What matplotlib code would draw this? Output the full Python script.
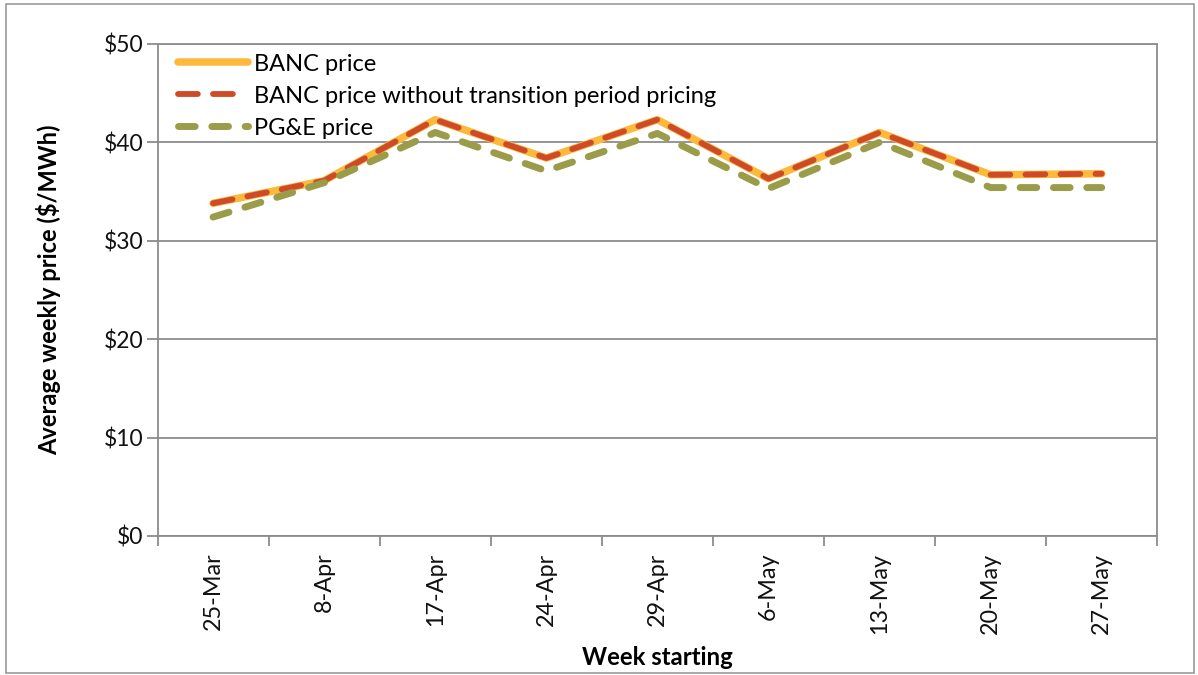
import matplotlib
matplotlib.use("Agg")
import matplotlib.pyplot as plt
import numpy as np
from matplotlib.patches import Rectangle
from matplotlib.ticker import FixedLocator, NullFormatter

weeks = ['25-Mar', '8-Apr', '17-Apr', '24-Apr', '29-Apr', '6-May', '13-May', '20-May', '27-May']
banc_price = [33.8, 36.1, 42.3, 38.4, 42.3, 36.3, 41.0, 36.7, 36.8]
banc_no_transition = [33.8, 36.1, 42.3, 38.4, 42.3, 36.3, 41.0, 36.7, 36.8]
pge_price = [32.4, 35.9, 41.0, 37.1, 40.9, 35.3, 40.0, 35.4, 35.4]
y_ticks = [0, 10, 20, 30, 40, 50]
y_labels = ['$0', '$10', '$20', '$30', '$40', '$50']

plt.rcParams['font.family'] = ['Lato', 'DejaVu Sans']

fig = plt.figure(figsize=(11.98, 6.75), dpi=100)
ax = fig.add_axes([0.1315, 0.206, 0.8345, 0.729])

x = np.arange(len(weeks))
gray = '#8c8c8c'

l1, = ax.plot(x, banc_price, color='#FDB93C', lw=5.4, solid_capstyle='round',
              solid_joinstyle='round', label='BANC price', zorder=3)
l2, = ax.plot(x, banc_no_transition, color='#CF4B27', lw=4.2, dash_capstyle='round',
              dash_joinstyle='round', dashes=(3.4, 2.6),
              label='BANC price without transition period pricing', zorder=4)
l3, = ax.plot(x, pge_price, color='#9B9C4A', lw=5.0, dash_capstyle='round',
              dash_joinstyle='round', dashes=(2.4, 2.4), label='PG&E price', zorder=5)

ax.set_xlim(-0.5, len(weeks) - 0.5)
ax.set_ylim(0, 50)
ax.set_yticks(y_ticks)
ax.set_yticklabels(y_labels)
ax.yaxis.grid(True, color=gray, lw=1.3)
ax.set_axisbelow(True)

ax.xaxis.set_major_locator(FixedLocator(np.arange(-0.5, len(weeks), 1.0)))
ax.xaxis.set_major_formatter(NullFormatter())
ax.xaxis.set_minor_locator(FixedLocator(x))
ax.set_xticklabels(weeks, minor=True, rotation=90, fontsize=16.8, color='#111111')
ax.tick_params(axis='x', which='minor', length=0, pad=12)
ax.tick_params(axis='x', which='major', length=7, width=1.3, color=gray, direction='out')
ax.tick_params(axis='y', length=8, width=1.3, color=gray, direction='out',
               labelsize=16.5, pad=2, labelcolor='#111111')

for s in ax.spines.values():
    s.set_color(gray)
    s.set_linewidth(1.3)

ax.set_xlabel('Week starting', fontsize=17.2, fontweight='bold', labelpad=9)
ax.set_ylabel('Average weekly price ($/MWh)', fontsize=17, fontweight='bold', labelpad=31)

leg = ax.legend(handles=[l1, l2, l3], loc='upper left', frameon=False, fontsize=17,
                handlelength=2.95, handletextpad=0.25, labelspacing=0.47,
                borderaxespad=0.45, borderpad=0.25, bbox_to_anchor=(0.004, 1.014))

fig.patches.append(Rectangle((0.005, 0.003), 0.992, 0.991, transform=fig.transFigure,
                             fill=False, edgecolor='#9a9a9a', lw=1.2))

fig.savefig('out.png', dpi=100)
